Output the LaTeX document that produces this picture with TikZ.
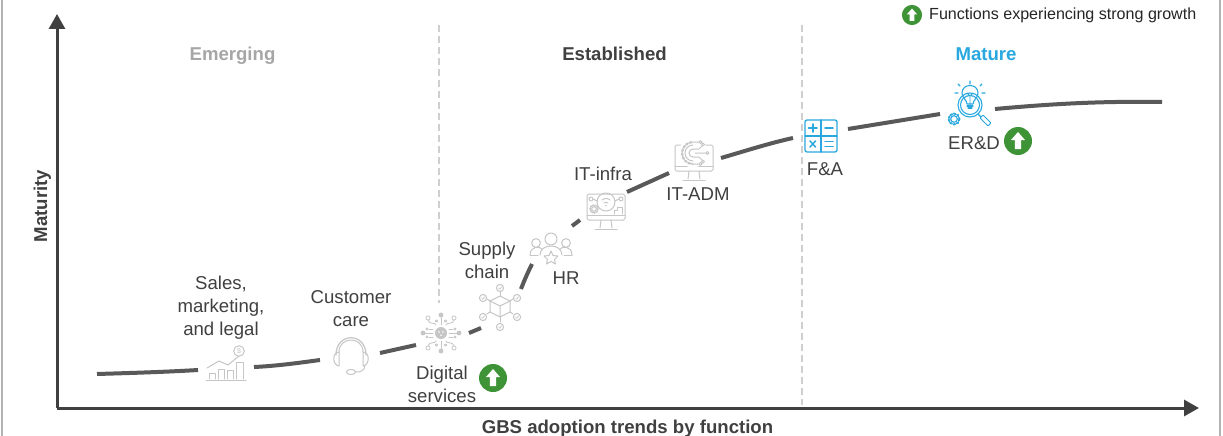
\documentclass[tikz,border=0pt]{standalone}
\usepackage{fontspec}
\setmainfont{Liberation Sans}
\usetikzlibrary{arrows.meta,calc}
\definecolor{ink}{HTML}{404040}
\definecolor{curvec}{HTML}{595959}
\definecolor{icong}{HTML}{C6C6C6}
\definecolor{iconb}{HTML}{29A8E0}
\definecolor{badge}{HTML}{3F9337}
\definecolor{mutedt}{HTML}{A6A6A6}
\tikzset{
  x=1pt,y=-1pt,
  lbl/.style={inner sep=0pt,align=center,text=ink,font=\fontsize{18.6}{23}\selectfont},
  head/.style={inner sep=0pt,anchor=base,font=\fontsize{18.6}{23}\selectfont\bfseries},
  axis/.style={draw=ink,line width=3pt,-{Triangle[length=15pt,width=16pt]}},
  trend/.style={draw=curvec,line width=4pt},
  sep/.style={draw=icong!85,line width=1.2pt,dash pattern=on 7pt off 4pt},
  gi/.style={draw=icong,line width=1pt,line cap=round,line join=round},
  bi/.style={draw=iconb,line width=1.1pt,line cap=round,line join=round},
  pics/upbadge/.style={code={
    \fill[badge] (0,0) circle (14);
    \fill[white] (0,-9) -- (7,-1) -- (3.2,-1) -- (3.2,8) -- (-3.2,8) -- (-3.2,-1) -- (-7,-1) -- cycle;
  }},
  pics/bars/.style={code={
    \draw[gi] (-20,15) -- (20,15);
    \draw[gi] (-17,14) -- (-17,8) -- (-11,8) -- (-11,14);
    \draw[gi] (-8,14) -- (-8,4) -- (-2,4) -- (-2,14);
    \draw[gi] (1,14) -- (1,5) -- (7,5) -- (7,14);
    \draw[gi] (10,14) -- (10,-3) -- (17,-3) -- (17,14);
    \draw[gi] (-19,3) -- (-7,-4) -- (2,0) -- (13,-9);
    \draw[gi] (13,-14) circle (5.3);
    \node[inner sep=0pt,text=icong,font=\fontsize{7}{7}\selectfont] at (13,-14) {\$};
  }},
  pics/headset/.style={code={
    \draw[gi,line width=1.2pt] (-15,0) .. controls (-15,-23) and (15,-23) .. (15,0);
    \draw[gi] (-12,-3) .. controls (-12,-19) and (12,-19) .. (12,-3);
    \draw[gi] (-12,-3) .. controls (-19,-3) and (-19,10) .. (-12,11) -- cycle;
    \draw[gi] (12,-3) .. controls (19,-3) and (19,10) .. (12,11) -- cycle;
    \draw[gi] (14,11) .. controls (13,16) and (10,17) .. (5,17);
    \draw[gi] (0,17) ellipse (4.5 and 2.6);
  }},
  pics/digital/.style={code={
    \fill[icong] (0,0) circle (6);
    \fill[white] (-2,-1) circle (.9) (2,-1) circle (.9) (0,2.2) circle (.9);
    \foreach \p in {(0,-18),(0,18),(-18,0),(18,0)} \fill[icong] \p circle (2.4);
    \draw[gi,line width=.8pt] (-8,0) -- (-18,0) (8,0) -- (18,0) (0,-8) -- (0,-18) (0,8) -- (0,18);
    \foreach \sx in {-1,1}{\foreach \sy in {-1,1}{
      \draw[gi,line width=.8pt] (\sx*5,\sy*8) .. controls (\sx*5,\sy*11) and (\sx*12,\sy*8) .. (\sx*13,\sy*13);
      \draw[gi,line width=.8pt] (\sx*13,\sy*15) circle (2.1);
      \draw[gi,line width=.8pt] (\sx*8,\sy*4) -- (\sx*12,\sy*4);
      \draw[gi,line width=.8pt] (\sx*14,\sy*4) circle (1.1);
      \draw[gi,line width=.8pt] (\sx*4.5,\sy*12) circle (1.2);
    }}
  }},
  pics/cube/.style={code={
    \draw[gi] (0,-10) -- (10,-5) -- (10,6) -- (0,11) -- (-10,6) -- (-10,-5) -- cycle;
    \draw[gi] (-10,-5) -- (0,0) -- (10,-5) (0,0) -- (0,11);
    \foreach \a/\b/\c/\d in {0/-10/0/-15,10/-5/13/-7,10/6/13/8,0/11/0/16,-10/6/-13/8,-10/-5/-13/-7}
      \draw[gi] (\a,\b) -- (\c,\d);
    \foreach \a/\b in {0/-18,17/-8,17/11,0/21,-17/11,-17/-8}{
      \draw[gi] (\a,\b) circle (3.6);
      \draw[gi,line width=.7pt] (\a-1.5,\b) -- (\a-.3,\b+1.2) -- (\a+1.6,\b-1.2);
    }
  }},
  pics/team/.style={code={
    \draw[gi] (0,-8) circle (6);
    \draw[gi] (-15,-4) circle (4.4);
    \draw[gi] (15,-4) circle (4.4);
    \draw[gi] (-21,8) .. controls (-21,-1) and (-11,-1) .. (-9,2);
    \draw[gi] (-21,8) -- (-13,8);
    \draw[gi] (21,8) .. controls (21,-1) and (11,-1) .. (9,2);
    \draw[gi] (21,8) -- (13,8);
    \draw[gi] (-11,8) .. controls (-11,-4) and (11,-4) .. (11,8);
    \draw[gi] (0,4) -- (2,8.5) -- (7,9) -- (3.5,12.5) -- (4.5,17) -- (0,14.5) -- (-4.5,17) -- (-3.5,12.5) -- (-7,9) -- (-2,8.5) -- cycle;
  }},
  pics/monitor/.style={code={
    \draw[gi,rounded corners=1.5pt] (-19,-14) rectangle (19,12);
    \draw[gi] (-19,7) -- (19,7);
    \draw[gi] (-5,12) -- (-6,20) (5,12) -- (6,20);
    \draw[gi] (-11,21) -- (11,21);
  }},
  pics/infra/.style={code={
    \pic {monitor};
    \draw[gi] (0,-6) circle (9);
    \draw[gi] (-4,-8) .. controls (-2,-10) and (2,-10) .. (4,-8) (-2,-5) .. controls (-1,-6) and (1,-6) .. (2,-5);
    \fill[icong] (0,-2.5) circle (.9);
    \draw[gi] (-15,-9) circle (2) (15,-9) circle (2);
    \draw[gi] (-9,-7) -- (-13,-9) (9,-7) -- (13,-9);
    \draw[gi] (-12,1) circle (2.3);
    \draw[gi,line width=1.5pt,dash pattern=on 1.2pt off 1.2pt] (-12,1) circle (4);
    \draw[gi] (8,6) -- (8,2) -- (11,2) -- (11,-1) -- (16,-1) -- (16,6);
  }},
  pics/adm/.style={code={
    \pic {monitor};
    \fill[white] (-1,-6) circle (14.5);
    \begin{scope}
      \clip (-16,-24) rectangle (-1,10);
      \draw[gi] (-1,-6) circle (4);
      \draw[gi] (-1,-6) circle (8);
      \draw[gi,line width=2.2pt,dash pattern=on 2pt off 2pt] (-1,-6) circle (11);
    \end{scope}
    \draw[gi] (-1,-2) -- (5,-2) -- (8,1) (1,-6) -- (12,-6) (-1,-10) -- (5,-10) -- (8,-13)
              (-1,-17) -- (5,-17) (-1,5) -- (5,5);
    \draw[gi] (9,2.5) circle (1.5) (13.5,-6) circle (1.5) (9,-14.5) circle (1.5) (6.5,-17) circle (1.5) (6.5,5) circle (1.5);
  }},
  pics/calc/.style={code={
    \draw[bi,line width=1.3pt,rounded corners=2pt] (-16,-16) rectangle (16,16);
    \draw[bi] (0,-16) -- (0,16) (-16,0) -- (16,0);
    \draw[bi,line width=1.5pt] (-12.5,-8) -- (-4,-8) (-8.25,-12) -- (-8.25,-4);
    \draw[bi,line width=1.5pt] (4,-8) -- (12,-8);
    \draw[bi,line width=1.5pt] (-11,5) -- (-5.5,11) (-5.5,5) -- (-11,11);
    \draw[bi,line width=1.5pt] (4,5.5) -- (12,5.5) (4,10.5) -- (12,10.5);
  }},
  pics/rnd/.style={code={
    \draw[bi] (0,-4) circle (12);
    \draw[bi] (0,-4) circle (9.5);
    \draw[bi] (8,5) -- (11,8);
    \draw[bi,line width=1pt,rounded corners=1pt] (10,9) -- (13,6) -- (21,14) -- (18,17) -- cycle;
    \draw[bi] (-3,-5) .. controls (-3,-9) and (-8,-11) .. (-8,-16) .. controls (-8,-26) and (8,-26) .. (8,-16) .. controls (8,-11) and (3,-9) .. (3,-5) -- cycle;
    \draw[bi] (-3,-3) -- (3,-3) (-2,-1) -- (2,-1);
    \draw[bi,line width=.8pt] (0,-5) -- (0,-13) (-3,-16) -- (0,-13) -- (3,-16);
    \draw[bi] (0,-25) -- (0,-28) (-10,-23) -- (-12,-25) (10,-23) -- (12,-25) (-12,-16) -- (-15,-16) (12,-16) -- (15,-16);
    \draw[bi] (-16,10) circle (3.3);
    \draw[bi,line width=1.9pt,dash pattern=on 1.8pt off 1.8pt] (-16,10) circle (5.5);
  }},
}
\begin{document}
\begin{tikzpicture}
\useasboundingbox (0,0) rectangle (1223,436);
\fill[white] (0,0) rectangle (1223,436);
\draw[draw=black!30,line width=2pt] (1.5,0) -- (1.5,436) (1220,0) -- (1220,436);

% separators
\coordinate (s1a) at (439,25); \coordinate (s1b) at (439,303);
\coordinate (s2a) at (802,25); \coordinate (s2b) at (802,405);
\draw[sep] (s1a) -- (s1b);
\draw[sep] (s2a) -- (s2b);

% axes
\coordinate (origin) at (57,408);
\coordinate (ytip) at (57,14);
\coordinate (xtip) at (1199,408);
\draw[axis] (origin) -- (ytip);
\draw[axis] (origin) -- (xtip);

% icons
\coordinate (ibars) at (226,365);
\coordinate (ihead) at (351,355);
\coordinate (idig) at (441,333);
\coordinate (icube) at (500,306);
\coordinate (iteam) at (551,247);
\coordinate (iinfra) at (606,208);
\coordinate (iadm) at (694,159);
\coordinate (icalc) at (821,136);
\coordinate (irnd) at (970,109);
\pic at (ibars) {bars};
\pic at (ihead) {headset};
\pic at (idig) {digital};
\pic at (icube) {cube};
\pic at (iteam) {team};
\pic at (iinfra) {infra};
\pic at (iadm) {adm};
\pic at (icalc) {calc};
\pic at (irnd) {rnd};

% trend curve
\coordinate (t0) at (97,374); \coordinate (t1) at (198,370);
\coordinate (t2) at (254,367); \coordinate (t3) at (320,360);
\coordinate (t4) at (380,353); \coordinate (t5) at (416,345);
\coordinate (t6) at (469,333); \coordinate (t7) at (481,328);
\coordinate (t8) at (521,289); \coordinate (t9) at (532,264);
\coordinate (t10) at (572,226); \coordinate (t11) at (580,220);
\coordinate (t12) at (627,192); \coordinate (t13) at (669,173);
\coordinate (t14) at (721,158); \coordinate (t15) at (793,138);
\coordinate (t16) at (848,129); \coordinate (t17) at (940,114);
\coordinate (t18) at (995,109); \coordinate (t19) at (1162,102);
\draw[trend] (t0) .. controls (130,373) and (165,372) .. (t1);
\draw[trend] (t2) .. controls (276,366) and (298,363) .. (t3);
\draw[trend] (t4) -- (t5);
\draw[trend] (t6) -- (t7);
\draw[trend] (t8) .. controls (524,281) and (528,272) .. (t9);
\draw[trend] (t10) -- (t11);
\draw[trend] (t12) -- (t13);
\draw[trend] (t14) .. controls (745,151) and (770,143) .. (t15);
\draw[trend] (t16) -- (t17);
\draw[trend] (t18) .. controls (1050,104) and (1100,101) .. (t19);

% labels
\node[lbl] (lsales) at (221,308) {Sales,\\marketing,\\and legal};
\node[lbl] (lcare) at (351,309) {Customer\\care};
\node[lbl] (ldig) at (442,384) {Digital\\services};
\node[lbl] (lsupply) at (487,260) {Supply\\chain};
\node[lbl] (lhr) at (566,278) {HR};
\node[lbl] (linfra) at (603,174) {IT-infra};
\node[lbl] (ladm) at (698,194) {IT-ADM};
\node[lbl] (lfa) at (825,169) {F\&A};
\node[lbl] (lrnd) at (974,143) {ER\&D};

% badges
\coordinate (b1) at (493,378);
\coordinate (b2) at (1018,141);
\coordinate (b3) at (912,15);
\pic at (b1) {upbadge};
\pic at (b2) {upbadge};
\pic[scale=.72] at (b3) {upbadge};
\node[anchor=west,inner sep=0pt,font=\fontsize{16.07}{20}\selectfont,text=black!85] (legend) at (929,15) {Functions experiencing strong growth};

% headings
\node[head,text=mutedt] (hem) at (232.5,60) {Emerging};
\node[head,text=ink] (hes) at (614.5,60) {Established};
\node[head,text=iconb] (hma) at (986,60) {Mature};
\node[head,text=ink,rotate=90] (ylab) at (47,206) {Maturity};
\node[head,text=ink] (xlab) at (627.5,433) {GBS adoption trends by function};
\end{tikzpicture}
\end{document}
